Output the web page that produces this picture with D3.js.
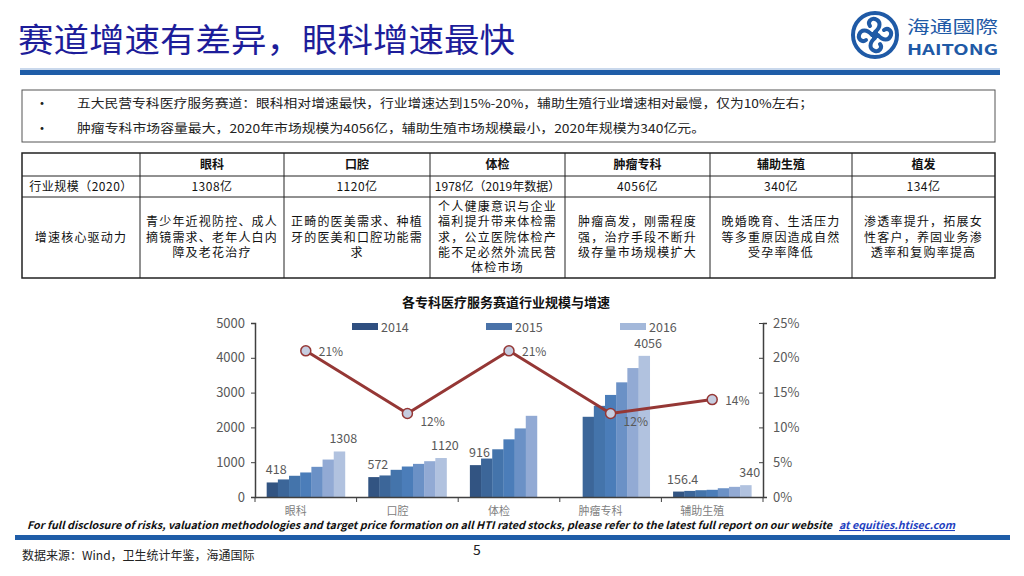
<!DOCTYPE html>
<html>
<head>
<meta charset="utf-8">
<script src="https://cdn.jsdelivr.net/npm/d3@7"></script>
<style>
  body { margin: 0; background: #fff; }
  svg { display: block; }
  text { font-family: "Noto Sans CJK SC", "Liberation Sans", sans-serif; }
</style>
</head>
<body>
<svg></svg>
<script>
const width = 1024;
const height = 576;

// chart data
const categories = ['眼科', '口腔', '体检', '肿瘤专科', '辅助生殖'];
const years = ['2014', '2015', '2016', '2017', '2018', '2019', '2020'];
const sizeByCategory = [
	[418, 505, 610, 705, 867, 1076, 1308],
	[572, 619, 781, 876, 952, 1029, 1120],
	[916, 1105, 1371, 1657, 1971, 2333, null],
	[null, 2305, 2619, 2933, 3295, 3705, 4056],
	[156.4, 175, 195, 207, 252, 292, 340]
];
const growth = [0.21, 0.12, 0.21, 0.12, 0.14];
const growthLabels = ['21%', '12%', '21%', '12%', '14%'];
const labelledBars = [[0, 6], [0, 6], [0], [6], [0, 6]];
const leftTicks = [0, 1000, 2000, 3000, 4000, 5000];
const rightTicks = [0, 0.05, 0.10, 0.15, 0.20, 0.25];
const legendYears = ['2014', '2015', '2016'];
const yearColors = ['#325482', '#3c6699', '#4474ab', '#4b7db9', '#6b91c6', '#92aad4', '#b1c2df'];
const legendColors = ['#2f4f80', '#4a72a8', '#a3b8da'];

// table data
const tableHeader = ['', '眼科', '口腔', '体检', '肿瘤专科', '辅助生殖', '植发'];
const tableSize = ['行业规模（2020）', '1308亿', '1120亿', '1978亿（2019年数据）', '4056亿', '340亿', '134亿'];
const tableDrivers = [
	['增速核心驱动力'],
	['青少年近视防控、成人', '摘镜需求、老年人白内', '障及老花治疗'],
	['正畸的医美需求、种植', '牙的医美和口腔功能需', '求'],
	['个人健康意识与企业', '福利提升带来体检需', '求，公立医院体检产', '能不足必然外流民营', '体检市场'],
	['肿瘤高发，刚需程度', '强，治疗手段不断升', '级存量市场规模扩大'],
	['晚婚晚育、生活压力', '等多重原因造成自然', '受孕率降低'],
	['渗透率提升，拓展女', '性客户，养固业务渗', '透率和复购率提高']
];
const colEdges = [22, 140, 284, 430, 565, 710, 852, 995];
const rowEdges = [153, 176, 197, 278];

const bullets = [
	'五大民营专科医疗服务赛道：眼科相对增速最快，行业增速达到15%-20%，辅助生殖行业增速相对最慢，仅为10%左右；',
	'肿瘤专科市场容量最大，2020年市场规模为4056亿，辅助生殖市场规模最小，2020年规模为340亿元。'
];

const svg = d3.select('svg')
	.attr('width', width)
	.attr('height', height);

// ---- header ----
svg.append('text')
	.attr('x', 18)
	.attr('y', 52)
	.attr('font-size', 33)
	.attr('fill', '#1d1d9a')
	.attr('textLength', 497)
	.attr('lengthAdjust', 'spacingAndGlyphs')
	.text('赛道增速有差异，眼科增速最快');

svg.append('rect').attr('x', 20).attr('y', 68).attr('width', 980).attr('height', 2).attr('fill', '#c9d8ec');
svg.append('rect').attr('x', 20).attr('y', 70).attr('width', 980).attr('height', 5).attr('fill', '#1f5da8');

// logo
const logo = svg.append('g').attr('transform', 'translate(875,35)');
logo.append('circle').attr('r', 22).attr('fill', 'none').attr('stroke', '#1f5aa6').attr('stroke-width', 4);
[0, 90, 180, 270].forEach(a => {
	logo.append('path')
		.attr('transform', `rotate(${a})`)
		.attr('d', 'M0,-3 C6,-8 6,-14 0,-16 C-4,-17 -8,-13 -5,-9')
		.attr('fill', 'none')
		.attr('stroke', '#1f5aa6')
		.attr('stroke-width', 4)
		.attr('stroke-linecap', 'round');
});
logo.append('rect').attr('x', -3).attr('y', -3).attr('width', 6).attr('height', 6).attr('fill', '#1f5aa6');
svg.append('text').attr('x', 907).attr('y', 33).attr('font-size', 17).attr('fill', '#1f5aa6')
	.attr('textLength', 91).attr('lengthAdjust', 'spacingAndGlyphs').text('海通國際');
svg.append('text').attr('x', 907).attr('y', 55).attr('font-size', 15).attr('font-weight', 'bold')
	.attr('font-family', 'Liberation Sans, sans-serif').attr('fill', '#1f5aa6')
	.attr('textLength', 91).attr('lengthAdjust', 'spacingAndGlyphs').text('HAITONG');

// ---- bullet box ----
svg.append('rect')
	.attr('x', 22).attr('y', 90).attr('width', 973).attr('height', 52)
	.attr('fill', 'none').attr('stroke', '#555').attr('stroke-width', 1);

const bulletWidths = [736, 628];
bullets.forEach((t, i) => {
	const y = 108 + i * 25;
	svg.append('text').attr('x', 35).attr('y', y).attr('font-size', 14).attr('fill', '#222').text('•');
	svg.append('text').attr('x', 77).attr('y', y).attr('font-size', 12).attr('fill', '#222')
		.attr('textLength', bulletWidths[i]).attr('lengthAdjust', 'spacingAndGlyphs').text(t);
});

// ---- table ----
const table = svg.append('g');
table.append('rect')
	.attr('x', colEdges[0]).attr('y', rowEdges[0])
	.attr('width', colEdges[colEdges.length - 1] - colEdges[0])
	.attr('height', rowEdges[rowEdges.length - 1] - rowEdges[0])
	.attr('fill', 'none').attr('stroke', '#222').attr('stroke-width', 1.5);
rowEdges.slice(1, -1).forEach(y => {
	table.append('line').attr('x1', colEdges[0]).attr('x2', colEdges[colEdges.length - 1])
		.attr('y1', y).attr('y2', y).attr('stroke', '#222').attr('stroke-width', 1);
});
colEdges.slice(1, -1).forEach(x => {
	table.append('line').attr('x1', x).attr('x2', x)
		.attr('y1', rowEdges[0]).attr('y2', rowEdges[rowEdges.length - 1]).attr('stroke', '#222').attr('stroke-width', 1);
});

const colCenter = i => (colEdges[i] + colEdges[i + 1]) / 2;

table.selectAll('text.head')
	.data(tableHeader)
	.enter()
	.append('text')
	.attr('class', 'head')
	.attr('x', (d, i) => colCenter(i))
	.attr('y', 169)
	.attr('text-anchor', 'middle')
	.attr('font-size', 12)
	.attr('font-weight', 'bold')
	.attr('fill', '#111')
	.text(d => d);

table.selectAll('text.size')
	.data(tableSize)
	.enter()
	.append('text')
	.attr('class', 'size')
	.attr('x', (d, i) => colCenter(i))
	.attr('y', 191)
	.attr('text-anchor', 'middle')
	.attr('font-size', 12)
	.attr('letter-spacing', d => d.length > 10 ? 0 : 0.5)
	.attr('fill', '#111')
	.text(d => d);

tableDrivers.forEach((lines, i) => {
	const mid = (rowEdges[2] + rowEdges[3]) / 2;
	const lh = 15.2;
	const y0 = mid - (lines.length - 1) * lh / 2 + 4;
	lines.forEach((t, j) => {
		table.append('text')
			.attr('x', colCenter(i))
			.attr('y', y0 + j * lh)
			.attr('text-anchor', 'middle')
			.attr('font-size', 12)
			.attr('letter-spacing', 1.2)
			.attr('fill', '#111')
			.text(t);
	});
});

// ---- chart ----
const plotLeft = 255;
const plotRight = 763;
const plotTop = 323;
const plotBottom = 497;

svg.append('text')
	.attr('x', 506).attr('y', 307)
	.attr('text-anchor', 'middle')
	.attr('font-size', 13)
	.attr('font-weight', 'bold')
	.attr('fill', '#111')
	.text('各专科医疗服务赛道行业规模与增速');

const x0 = d3.scaleBand()
	.domain(categories)
	.range([plotLeft, plotRight])
	.paddingInner(0.23)
	.paddingOuter(0.115);
const x1 = d3.scaleBand()
	.domain(years)
	.range([0, x0.bandwidth()]);
const yLeft = d3.scaleLinear().domain([0, 5000]).range([plotBottom, plotTop]);
const yRight = d3.scaleLinear().domain([0, 0.25]).range([plotBottom, plotTop]);

const numFont = 'Liberation Sans, Arial, sans-serif';

// bars
const groups = svg.selectAll('g.cat')
	.data(categories)
	.enter()
	.append('g')
	.attr('class', 'cat')
	.attr('transform', d => `translate(${x0(d)},0)`);

groups.selectAll('rect')
	.data((d, i) => sizeByCategory[i].map((v, j) => ({ v: v, j: j })).filter(e => e.v !== null))
	.enter()
	.append('rect')
	.attr('x', d => x1(years[d.j]))
	.attr('y', d => yLeft(d.v))
	.attr('width', x1.bandwidth() + 0.3)
	.attr('height', d => plotBottom - yLeft(d.v))
	.attr('fill', d => yearColors[d.j]);

groups.selectAll('text.val')
	.data((d, i) => labelledBars[i].map(j => ({ v: sizeByCategory[i][j], j: j })))
	.enter()
	.append('text')
	.attr('class', 'val')
	.attr('x', d => x1(years[d.j]) + x1.bandwidth() / 2 + 4)
	.attr('y', d => yLeft(d.v) - 8)
	.attr('text-anchor', 'middle')
	.attr('font-family', numFont)
	.attr('font-size', 12.5)
	.attr('fill', '#595959')
	.text(d => d.v);

// axes
const axisLeft = svg.append('g')
	.attr('transform', `translate(${plotLeft},0)`)
	.call(d3.axisLeft(yLeft).tickValues(leftTicks).tickSize(4).tickPadding(6).tickFormat(d3.format('d')));
axisLeft.select('.domain').attr('stroke', '#404040').attr('stroke-width', 1.5);
axisLeft.selectAll('.tick line').attr('stroke', '#404040');
axisLeft.selectAll('.tick text').attr('font-family', numFont).attr('font-size', 13).attr('fill', '#595959');

const axisRight = svg.append('g')
	.attr('transform', `translate(${plotRight},0)`)
	.call(d3.axisRight(yRight).tickValues(rightTicks).tickSize(4).tickPadding(6).tickFormat(d3.format('.0%')));
axisRight.select('.domain').attr('stroke', '#404040').attr('stroke-width', 1.5);
axisRight.selectAll('.tick line').attr('stroke', '#404040').attr('x1', -4).attr('x2', 0);
axisRight.selectAll('.tick text').attr('font-family', numFont).attr('font-size', 13).attr('fill', '#595959');

const axisBottom = svg.append('g')
	.attr('transform', `translate(0,${plotBottom})`)
	.call(d3.axisBottom(x0).tickSize(0).tickPadding(10));
axisBottom.select('.domain').attr('stroke', '#404040').attr('stroke-width', 1.5);
axisBottom.selectAll('.tick text')
	.attr('dx', -10)
	.attr('font-size', 11)
	.attr('fill', '#808080');
const boundaries = categories.map(c => x0(c) - x0.step() * x0.paddingInner() / 2)
	.concat([plotRight]);
axisBottom.selectAll('line.bound')
	.data(boundaries)
	.enter()
	.append('line')
	.attr('class', 'bound')
	.attr('x1', d => d).attr('x2', d => d)
	.attr('y1', 0).attr('y2', 5)
	.attr('stroke', '#404040');

// growth line
const cx = c => x0(c) + x0.bandwidth() / 2;
const line = d3.line()
	.x((d, i) => cx(categories[i]))
	.y(d => yRight(d));

svg.append('path')
	.datum(growth)
	.attr('d', line)
	.attr('fill', 'none')
	.attr('stroke', '#953735')
	.attr('stroke-width', 3);

svg.selectAll('circle.pt')
	.data(growth)
	.enter()
	.append('circle')
	.attr('class', 'pt')
	.attr('cx', (d, i) => cx(categories[i]))
	.attr('cy', d => yRight(d))
	.attr('r', 5)
	.attr('fill', '#c6cde0')
	.attr('stroke', '#953735')
	.attr('stroke-width', 1.5);

svg.selectAll('text.pct')
	.data(growth)
	.enter()
	.append('text')
	.attr('class', 'pct')
	.attr('x', (d, i) => cx(categories[i]) + 13)
	.attr('y', d => yRight(d) + (d < 0.13 ? 13 : 5))
	.attr('font-family', numFont)
	.attr('font-size', 12)
	.attr('fill', '#595959')
	.text((d, i) => growthLabels[i]);

// legend
const legend = svg.selectAll('g.leg')
	.data(legendYears)
	.enter()
	.append('g')
	.attr('class', 'leg')
	.attr('transform', (d, i) => `translate(${352 + i * 134},327)`);
legend.append('rect').attr('x', 0).attr('y', -4).attr('width', 26).attr('height', 7)
	.attr('fill', (d, i) => legendColors[i]);
legend.append('text').attr('x', 29).attr('y', 4.5)
	.attr('font-family', numFont).attr('font-size', 12.5).attr('fill', '#595959')
	.text(d => d);

// ---- footer ----
svg.append('text')
	.attr('x', 27).attr('y', 529)
	.attr('font-family', 'Liberation Sans Narrow, Liberation Sans, sans-serif')
	.attr('font-size', 10.5)
	.attr('font-style', 'italic')
	.attr('font-weight', 'bold')
	.attr('fill', '#111')
	.attr('textLength', 805).attr('lengthAdjust', 'spacingAndGlyphs')
	.text('For full disclosure of risks, valuation methodologies and target price formation on all HTI rated stocks, please refer to the latest full report on our website');
svg.append('text')
	.attr('x', 839).attr('y', 529)
	.attr('font-family', 'Liberation Sans Narrow, Liberation Sans, sans-serif')
	.attr('font-size', 10.5)
	.attr('font-style', 'italic')
	.attr('font-weight', 'bold')
	.attr('fill', '#1f3fbf')
	.attr('text-decoration', 'underline')
	.attr('textLength', 116).attr('lengthAdjust', 'spacingAndGlyphs')
	.text('at equities.htisec.com');

svg.append('rect').attr('x', 15).attr('y', 535).attr('width', 995).attr('height', 5).attr('fill', '#1f5da8');

svg.append('text').attr('x', 22).attr('y', 560).attr('font-size', 12).attr('fill', '#222').text('数据来源：Wind，卫生统计年鉴，海通国际');
svg.append('text').attr('x', 477).attr('y', 555).attr('text-anchor', 'middle')
	.attr('font-family', numFont).attr('font-size', 14).attr('fill', '#222').text('5');
</script>
</body>
</html>
